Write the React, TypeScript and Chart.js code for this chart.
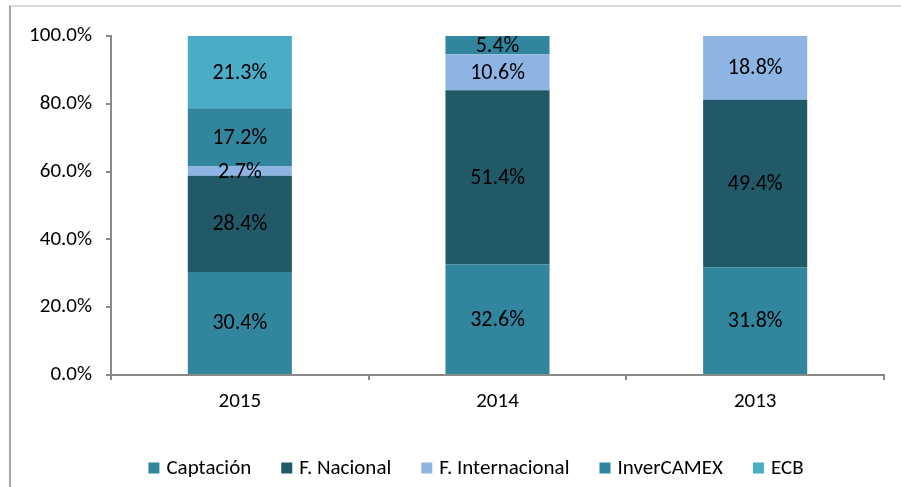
import React, { useEffect, useRef } from "react";
import { Chart, registerables } from "chart.js";

Chart.register(...registerables);

const categories = ["2015", "2014", "2013"];
const seriesNames = ["Captación", "F. Nacional", "F. Internacional", "InverCAMEX", "ECB"];
const captacion = [30.4, 32.6, 31.8];
const fNacional = [28.4, 51.4, 49.4];
const fInternacional = [2.7, 10.6, 18.8];
const inverCamex = [17.2, 5.4, 0];
const ecb = [21.3, 0, 0];
const seriesColors = ["#31859C", "#215968", "#8EB4E3", "#31859C", "#4BACC6"];
const yTicks = [0, 20, 40, 60, 80, 100];

const FONT = "Calibri, Carlito, Lato, 'Liberation Sans', sans-serif";

const labelPlugin = {
  id: "segLabels",
  afterDatasetsDraw(chart: any) {
    const ctx = chart.ctx;
    ctx.save();
    ctx.font = `22px ${FONT}`;
    ctx.fillStyle = "#000";
    ctx.textAlign = "center";
    ctx.textBaseline = "middle";
    chart.data.datasets.forEach((ds: any, i: number) => {
      const meta = chart.getDatasetMeta(i);
      meta.data.forEach((el: any, j: number) => {
        const v = ds.data[j];
        if (!v) return;
        const y = (el.y + el.base) / 2;
        ctx.fillText(v.toFixed(1) + "%", el.x, y + 1);
      });
    });
    ctx.restore();
  },
};

const legendPlugin = {
  id: "customLegend",
  afterDraw(chart: any) {
    const ctx = chart.ctx;
    ctx.save();
    ctx.font = `21px ${FONT}`;
    ctx.textBaseline = "middle";
    ctx.textAlign = "left";
    const box = 11;
    const gapBox = 7;
    const gapItem = 30;
    const items = chart.data.datasets.map((ds: any) => ({
      label: ds.label,
      color: ds.backgroundColor,
      w: ctx.measureText(ds.label).width,
    }));
    const total =
      items.reduce((a: number, it: any) => a + box + gapBox + it.w, 0) + gapItem * (items.length - 1);
    let x = 476 - total / 2;
    const cy = 468;
    items.forEach((it: any) => {
      ctx.fillStyle = it.color;
      ctx.fillRect(x, cy - box / 2, box, box);
      x += box + gapBox;
      ctx.fillStyle = "#000";
      ctx.fillText(it.label, x, cy + 1);
      x += it.w + gapItem;
    });
    ctx.restore();
  },
};

const framePlugin = {
  id: "frame",
  beforeDraw(chart: any) {
    const ctx = chart.ctx;
    ctx.save();
    ctx.fillStyle = "#fff";
    ctx.fillRect(0, 0, chart.width, chart.height);
    ctx.strokeStyle = "#d9d9d9";
    ctx.lineWidth = 2;
    ctx.beginPath();
    ctx.moveTo(9, 6);
    ctx.lineTo(chart.width, 6);
    ctx.stroke();
    ctx.strokeStyle = "#a6a6a6";
    ctx.beginPath();
    ctx.moveTo(10, 6);
    ctx.lineTo(10, chart.height);
    ctx.stroke();
    ctx.restore();
  },
};

export default function App() {
  const ref = useRef<HTMLCanvasElement>(null);
  useEffect(() => {
    if (!ref.current) return;
    const values = [captacion, fNacional, fInternacional, inverCamex, ecb];
    const chart = new Chart(ref.current, {
      type: "bar",
      data: {
        labels: categories,
        datasets: seriesNames.map((n, i) => ({
          label: n,
          data: values[i],
          backgroundColor: seriesColors[i],
          borderWidth: 0,
          categoryPercentage: 1,
          barPercentage: 0.404,
        })),
      },
      options: {
        animation: false,
        responsive: false,
        maintainAspectRatio: false,
        layout: { padding: { left: 0, right: 17, top: 36, bottom: 60 } },
        plugins: {
          legend: { display: false },
          tooltip: { enabled: false },
        },
        scales: {
          x: {
            stacked: true,
            grid: {
              offset: true,
              drawOnChartArea: false,
              drawTicks: true,
              tickLength: 5,
              color: "#898989",
              lineWidth: 2,
            },
            border: { color: "#898989", width: 2 },
            ticks: { font: { family: FONT, size: 21 }, color: "#000", padding: 9 },
            afterFit: (s: any) => {
              s.height = 52;
            },
          },
          y: {
            stacked: true,
            min: 0,
            max: 100,
            afterBuildTicks: (s: any) => {
              s.ticks = yTicks.map((v) => ({ value: v }));
            },
            grid: {
              drawOnChartArea: false,
              drawTicks: true,
              tickLength: 5,
              color: "#898989",
              lineWidth: 2,
            },
            border: { color: "#898989", width: 2 },
            ticks: {
              font: { family: FONT, size: 21 },
              color: "#000",
              padding: 14,
              callback: (v: any) => Number(v).toFixed(1) + "%",
            },
            afterFit: (s: any) => {
              s.width = 111;
            },
          },
        },
      },
      plugins: [framePlugin, labelPlugin, legendPlugin],
    });
    return () => chart.destroy();
  }, []);
  return (
    <div style={{ position: "absolute", left: 0, top: 0, width: 901, height: 487 }}>
      <canvas ref={ref} width={901} height={487} style={{ width: 901, height: 487 }} />
    </div>
  );
}
